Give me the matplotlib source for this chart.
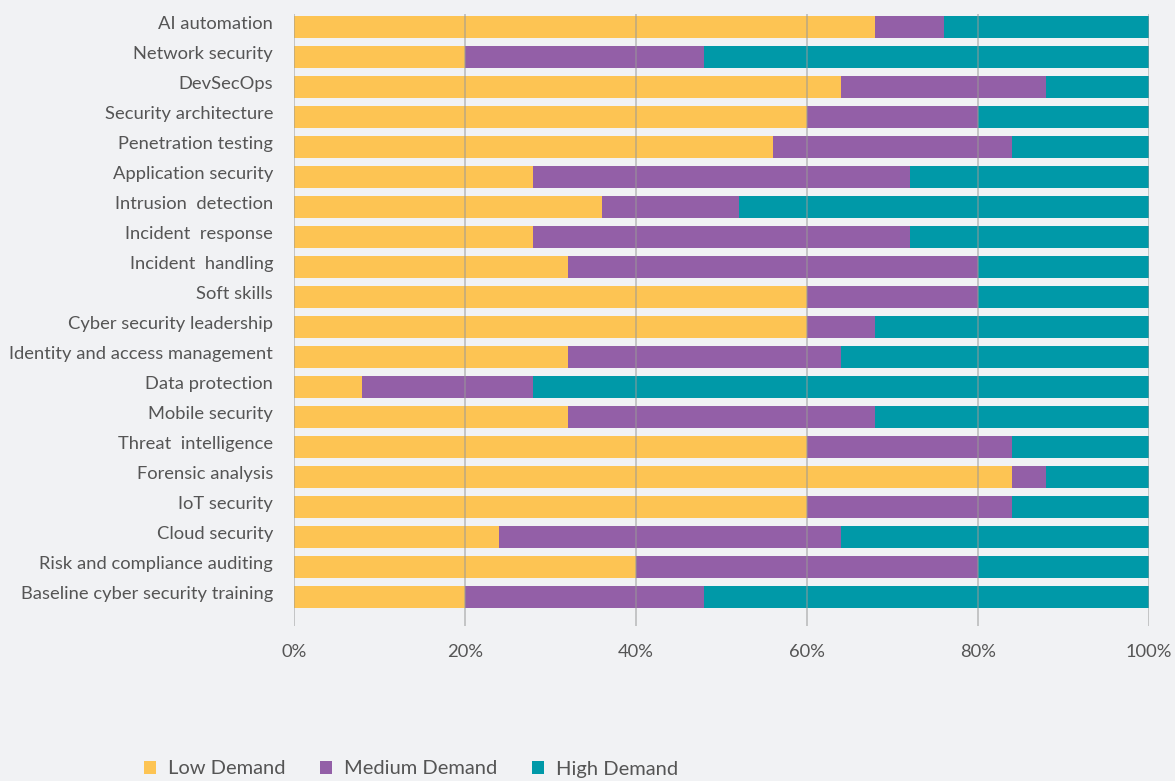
import matplotlib
matplotlib.use("Agg")
import matplotlib.pyplot as plt
import matplotlib.transforms as mtransforms
import numpy as np

plt.rcParams['font.family'] = ['Lato', 'DejaVu Sans']

# skills, top to bottom
skills = [
    "AI automation", "Network security", "DevSecOps", "Security architecture",
    "Penetration testing", "Application security", "Intrusion  detection",
    "Incident  response", "Incident  handling", "Soft skills",
    "Cyber security leadership", "Identity and access management",
    "Data protection", "Mobile security", "Threat  intelligence",
    "Forensic analysis", "IoT security", "Cloud security",
    "Risk and compliance auditing", "Baseline cyber security training",
]
low = [68, 20, 64, 60, 56, 28, 36, 28, 32, 60, 60, 32, 8, 32, 60, 84, 60, 24, 40, 20]
medium = [8, 28, 24, 20, 28, 44, 16, 44, 48, 20, 8, 32, 20, 36, 24, 4, 24, 40, 40, 28]
high = [24, 52, 12, 20, 16, 28, 48, 28, 20, 20, 32, 36, 72, 32, 16, 12, 16, 36, 20, 52]

series = ["Low Demand", "Medium Demand", "High Demand"]
colors = ["#FDC453", "#935FA7", "#0099A8"]
bg = "#F1F2F4"
text_col = "#555555"

fig = plt.figure(figsize=(11.75, 7.81), dpi=100, facecolor=bg)
ax = fig.add_axes([294 / 1175, 1 - 626 / 781, 855 / 1175, 612 / 781], facecolor=bg)

y = np.arange(len(skills))
left = np.zeros(len(skills))
for name, vals, c in zip(series, [low, medium, high], colors):
    ax.barh(y, vals, left=left, height=0.73, color=c, label=name, zorder=2)
    left += np.array(vals)

ax.set_xlim(0, 100)
ax.set_ylim(len(skills) - 1 + 0.97, -0.43)
ax.set_yticks(y)
ax.set_yticklabels(skills, fontsize=13.2, color=text_col)
ax.set_xticks(np.arange(0, 101, 20))
ax.set_xticklabels([f"{v}%" for v in range(0, 101, 20)], fontsize=13.2, color=text_col)
ax.tick_params(length=0)
ax.tick_params(axis='y', pad=15)
ax.tick_params(axis='x', pad=13)
# labels sit a little above the bar centre in the original
shift = mtransforms.ScaledTranslation(0, 4 / 100, fig.dpi_scale_trans)
for lab in ax.get_yticklabels():
    lab.set_transform(lab.get_transform() + shift)
ax.grid(axis='x', color='#999999', alpha=0.6, linewidth=1.2, zorder=3)
ax.set_axisbelow(False)
for s in ax.spines.values():
    s.set_visible(False)

fig.legend(loc='center left', bbox_to_anchor=(126 / 1175, 1 - 769 / 781), ncol=3,
           frameon=False, fontsize=14.5, handlelength=0.6, handleheight=0.6,
           handletextpad=0.6, columnspacing=1.7, labelcolor=text_col)

fig.savefig("out.png", dpi=100, facecolor=bg)
